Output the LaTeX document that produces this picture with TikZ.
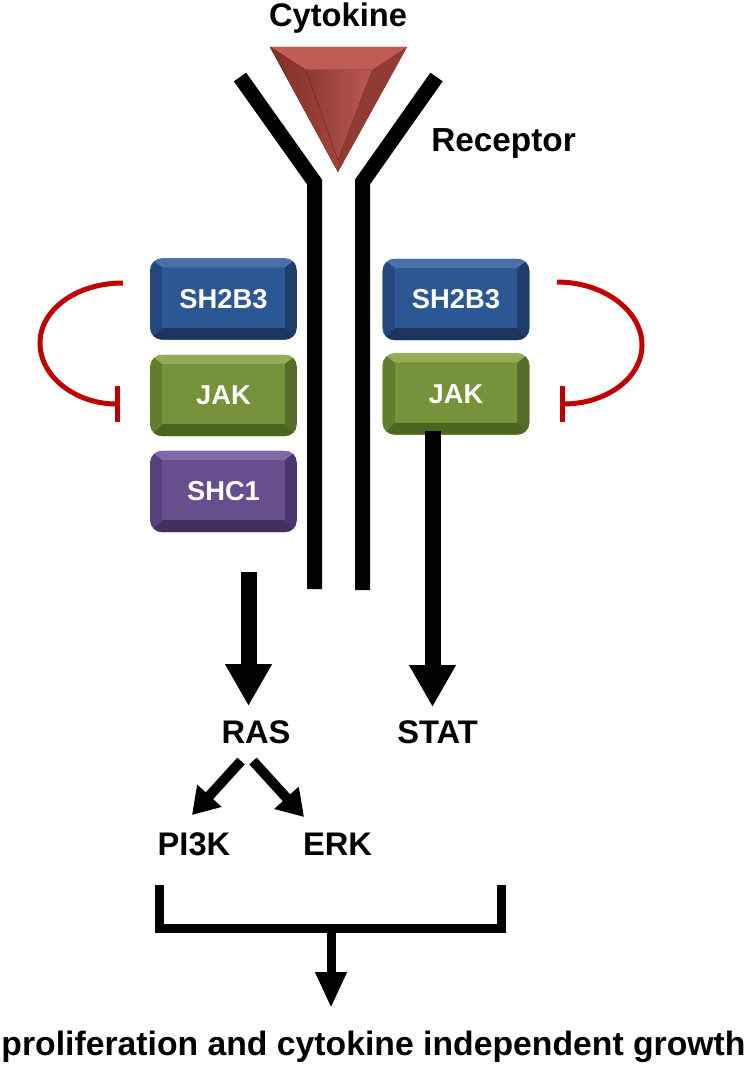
\documentclass[tikz,border=0pt]{standalone}
\usepackage{fontspec}
\setmainfont{Liberation Sans}
\usetikzlibrary{arrows.meta}
\definecolor{inhib}{HTML}{C00000}
\definecolor{blueface}{HTML}{2C5795}
\definecolor{bluetop}{HTML}{4870A9}
\definecolor{bluebot}{HTML}{1A365F}
\definecolor{blueside}{HTML}{23487E}
\definecolor{greenface}{HTML}{76933C}
\definecolor{greentop}{HTML}{91AD55}
\definecolor{greenbot}{HTML}{4C6620}
\definecolor{greenside}{HTML}{637F2E}
\definecolor{purpface}{HTML}{674E8E}
\definecolor{purptop}{HTML}{8069A6}
\definecolor{purpbot}{HTML}{42305E}
\definecolor{purpside}{HTML}{574080}
\definecolor{triface}{HTML}{A6423C}
\definecolor{tritop}{HTML}{BE5C55}
\definecolor{trileft}{HTML}{7E2F2A}
\definecolor{triright}{HTML}{923A34}
\tikzset{
  protbox/.style={
    rounded corners=9pt, minimum width=110pt, minimum height=61pt,
    inner sep=0pt, text=white, font=\fontsize{20.5}{24}\selectfont\bfseries,
    fill=#1side,
    path picture={
      \path (path picture bounding box.north west) coordinate (pA)
            (path picture bounding box.north east) coordinate (pB)
            (path picture bounding box.south east) coordinate (pC)
            (path picture bounding box.south west) coordinate (pD)
            ([shift={(9pt,-7pt)}]pA) coordinate (pa)
            ([shift={(-9pt,-7pt)}]pB) coordinate (pb)
            ([shift={(-9pt,9pt)}]pC) coordinate (pc)
            ([shift={(9pt,9pt)}]pD) coordinate (pd);
      \fill[sharp corners,#1top] (pA)--(pB)--(pb)--(pa)--cycle;
      \fill[sharp corners,#1bot] (pD)--(pC)--(pc)--(pd)--cycle;
      \fill[sharp corners,#1side] (pA)--(pa)--(pd)--(pD)--cycle;
      \fill[sharp corners,#1side!85!black] (pB)--(pb)--(pc)--(pC)--cycle;
      \fill[sharp corners,#1face] (pa)--(pb)--(pc)--(pd)--cycle;
    }
  },
  lbl/.style={font=\fontsize{24.5}{29}\selectfont\bfseries, inner sep=0pt, anchor=base},
  receptor/.style={line width=11.25pt, line join=miter},
  bigarrow/.style={line width=12pt, -{Triangle[length=31.5pt,width=33pt]}},
  medarrow/.style={line width=7.5pt, -{Triangle[length=19.5pt,width=23.5pt]}},
  bracket/.style={line width=6.75pt, line join=miter},
  smallarrow/.style={line width=6.75pt, -{Triangle[length=27pt,width=22pt]}},
  inhibit/.style={inhib, line width=3.75pt, -{Bar[width=27pt]}}
}
\begin{document}
\begin{tikzpicture}[x=0.75pt,y=-0.75pt]
\useasboundingbox (0,0) rectangle (747,1069);

% cytokine triangle
\fill[triface] (270,47) -- (407,47) -- (338,172) -- cycle;
\fill[tritop] (270,47) -- (407,47) -- (372,70) -- (306,70) -- cycle;
\fill[left color=trileft, right color=triface] (270,47) -- (306,70) -- (338,160) -- (338,172) -- cycle;
\fill[triright] (407,47) -- (372,70) -- (338,160) -- (338,172) -- cycle;
\fill[left color=triface!85!black, right color=tritop!90!triface] (306,70) -- (372,70) -- (338,160) -- cycle;

\node[lbl] (cytokine) at (338,27) {Cytokine};
\node[lbl, font=\fontsize{25}{29}\selectfont\bfseries] (receptorlbl) at (503.5,152) {Receptor};

% receptor
\draw[receptor] (240,77) -- (314.5,182) -- (314.5,589);
\draw[receptor] (436.5,77) -- (362.5,182) -- (362.5,590);

% proteins
\node[protbox=blue] (sh2b3L) at (223.5,299) {SH2B3};
\node[protbox=green] (jakL) at (223.5,395.5) {JAK};
\node[protbox=purp] (shc1) at (223.5,491.5) {SHC1};
\node[protbox=blue] (sh2b3R) at (456,299.5) {SH2B3};
\node[protbox=green] (jakR) at (456,394) {JAK};

% inhibition arcs
\coordinate (inLs) at (123,283);
\coordinate (inLe) at (120,404);
\coordinate (inRs) at (557,282);
\coordinate (inRe) at (560,404);
\draw[inhibit] (inLs) .. controls (76,283) and (40,310) .. (40,343)
  .. controls (40,377) and (76,404) .. (inLe);
\draw[inhibit] (inRs) .. controls (604,282) and (642,311) .. (642,345)
  .. controls (642,379) and (605,404) .. (inRe);

% labels
\node[lbl] (ras) at (256,743) {RAS};
\node[lbl] (stat) at (437.5,743) {STAT};
\node[lbl] (pi3k) at (194,855) {PI3K};
\node[lbl] (erk) at (337.5,855) {ERK};
\node[lbl, font=\fontsize{25.3}{29}\selectfont\bfseries] (growth) at (373.5,1055) {proliferation and cytokine independent growth};

% big arrows
\coordinate (rasIn) at (248.5,572);
\coordinate (rasTip) at (248.5,706);
\coordinate (statIn) at (432.5,431);
\coordinate (statTip) at (432.5,707);
\draw[bigarrow] (rasIn) -- (rasTip);
\draw[bigarrow] (statIn) -- (statTip);

% RAS branches
\coordinate (rasOutL) at (241,761);
\coordinate (pi3kTip) at (192,815);
\coordinate (rasOutR) at (253,761);
\coordinate (erkTip) at (304,817);
\draw[medarrow] (rasOutL) -- (pi3kTip);
\draw[medarrow] (rasOutR) -- (erkTip);

% bracket
\coordinate (brL) at (159,885);
\coordinate (brR) at (501.5,885);
\coordinate (brM) at (331,928);
\coordinate (growthTip) at (331,1008);
\draw[bracket] (brL) -- (brL |- brM) -- (brR |- brM) -- (brR);
\draw[smallarrow] (brM) -- (growthTip);
\end{tikzpicture}
\end{document}
